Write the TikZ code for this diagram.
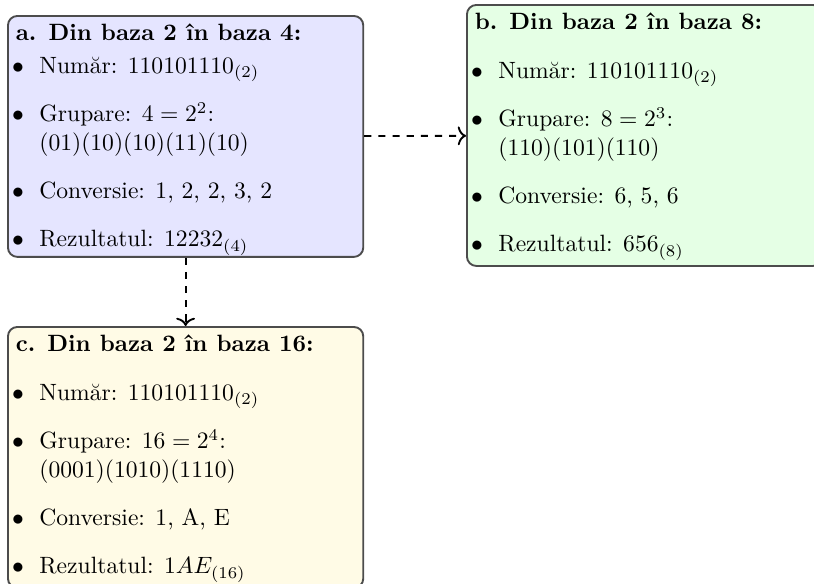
\documentclass[tikz,border=0pt]{standalone}
\usepackage{fontspec}
\usetikzlibrary{arrows.meta}

\definecolor{boxline}{gray}{0.3}
\colorlet{fillA}{blue!10}
\colorlet{fillB}{green!10}
\definecolor{fillC}{RGB}{255,251,230}

% one bulleted paragraph; the bullet hangs left of the indented text
\newcommand{\bulletline}[1]{\par\noindent\llap{$\bullet$\hspace{6.6pt}}#1\par}
% card body: title, gap below title, four bulleted entries
\newcommand{\cardbody}[6]{%
  \textbf{#1}\par
  \leftskip=10pt\relax
  \vspace{#2}\bulletline{#3}%
  \vspace{8.5pt}\bulletline{#4}%
  \vspace{8.5pt}\bulletline{#5}%
  \vspace{8.5pt}\bulletline{#6}}
% content box: fixed width and height, text set from the top
\newcommand{\boxtext}[2]{\parbox[c][#1][t]{144pt}{#2}}

\begin{document}
\begin{tikzpicture}[x=0.424pt, y=-0.424pt,
    card/.style={draw=boxline, line width=0.8pt, rounded corners=4pt,
      inner sep=3.33pt, anchor=north west},
    link/.style={draw, line width=0.8pt, dashed, -{To[length=3.5pt,width=8pt]}}]
  \useasboundingbox (0,0) rectangle (814,583);

  \node[card, fill=fillA] (a) at (7,15) {\boxtext{95.5pt}{\cardbody
    {a. Din baza 2 în baza 4:}{2pt}
    {Număr: $110101110_{(2)}$}
    {Grupare: $4 = 2^2$:\\ $(01)(10)(10)(11)(10)$}
    {Conversie: 1, 2, 2, 3, 2}
    {Rezultatul: $12232_{(4)}$}}};

  \node[card, fill=fillB] (b) at (466,4) {\boxtext{104pt}{\cardbody
    {b. Din baza 2 în baza 8:}{8.8pt}
    {Număr: $110101110_{(2)}$}
    {Grupare: $8 = 2^3$:\\ $(110)(101)(110)$}
    {Conversie: 6, 5, 6}
    {Rezultatul: $656_{(8)}$}}};

  \node[card, fill=fillC] (c) at (7,326) {\boxtext{104pt}{\cardbody
    {c. Din baza 2 în baza 16:}{8.8pt}
    {Număr: $110101110_{(2)}$}
    {Grupare: $16 = 2^4$:\\ $(0001)(1010)(1110)$}
    {Conversie: 1, A, E}
    {Rezultatul: $1AE_{(16)}$}}};

  \draw[link] (a) -- (b);
  \draw[link] (a) -- (c);
\end{tikzpicture}
\end{document}
